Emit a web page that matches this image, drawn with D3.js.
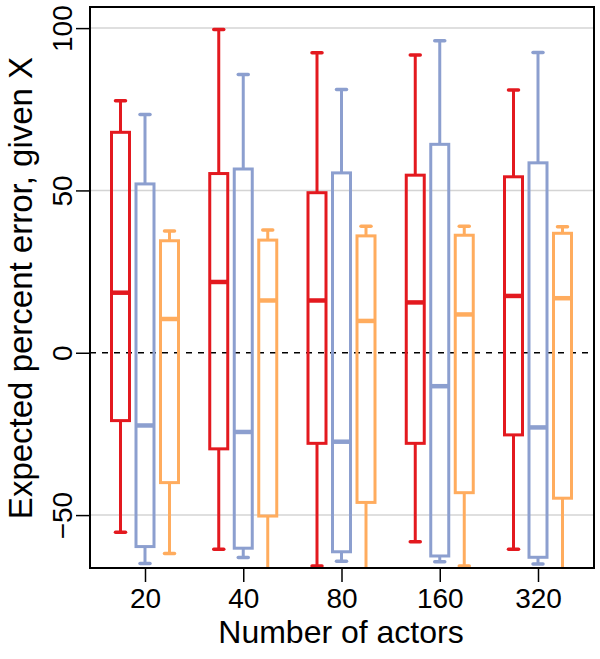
<!DOCTYPE html>
<html>
<head>
<meta charset="utf-8">
<script src="https://cdn.jsdelivr.net/npm/d3@7"></script>
<style>
  body { margin: 0; background: #fff; }
  text { font-family: "Liberation Sans", Arial, sans-serif; fill: #000; }
</style>
</head>
<body>
<div id="chart"></div>
<script>
// number of actors on the x axis
var categories = ["20", "40", "80", "160", "320"];
var seriesNames = ["red", "blue", "orange"];

// box stats per category: [low whisker, q1, median, q3, high whisker]
var redStats = [
    [-55.3, -20.9, 18.5, 67.9, 77.6],
    [-60.5, -29.6, 21.8, 55.2, 99.6],
    [-65.7, -27.9, 16.1, 49.3, 92.4],
    [-58.2, -27.9, 15.5, 54.7, 91.7],
    [-60.5, -25.3, 17.5, 54.2, 80.9]
];
var blueStats = [
    [-64.9, -59.7, -22.4, 52.0, 73.4],
    [-63.1, -60.2, -24.4, 56.6, 85.7],
    [-64.2, -61.3, -27.4, 55.4, 81.1],
    [-64.4, -62.6, -10.3, 64.2, 96.1],
    [-65.1, -63.0, -23.0, 58.5, 92.5]
];
var orangeStats = [
    [-61.8, -40.0, 10.4, 34.5, 37.5],
    [-72.0, -50.3, 16.1, 34.7, 37.8],
    [-72.0, -46.1, 9.8, 36.0, 39.0],
    [-65.7, -43.1, 11.8, 36.2, 39.0],
    [-72.0, -44.8, 16.8, 36.8, 38.8]
];

var yTicks = [-50, 0, 50, 100];
var gridValues = [-50, 50, 100];

var colors = { red: "#e3191f", blue: "#8c9fcf", orange: "#ffac5e" };
var allStats = { red: redStats, blue: blueStats, orange: orangeStats };

var width = 600, height = 659;
var plot = { left: 90, right: 594, top: 7, bottom: 568 };

var svg = d3.select("#chart").append("svg")
    .attr("width", width)
    .attr("height", height);

var y = d3.scaleLinear()
    .domain([-66.3, 106.5])
    .range([plot.bottom, plot.top]);

var x = d3.scalePoint()
    .domain(categories)
    .range([145, 538]);

var xSub = d3.scalePoint()
    .domain(seriesNames)
    .range([-24.5, 24.5]);

svg.append("clipPath").attr("id", "clip")
    .append("rect")
    .attr("x", plot.left).attr("y", plot.top)
    .attr("width", plot.right - plot.left)
    .attr("height", plot.bottom - plot.top);

// grid lines
svg.selectAll(".grid")
    .data(gridValues)
    .enter().append("line")
    .attr("x1", plot.left).attr("x2", plot.right)
    .attr("y1", function(d) { return y(d); })
    .attr("y2", function(d) { return y(d); })
    .attr("stroke", "#d4d4d4")
    .attr("stroke-width", 1.5);

svg.append("line")
    .attr("x1", plot.left).attr("x2", plot.right)
    .attr("y1", y(0)).attr("y2", y(0))
    .attr("stroke", "#000")
    .attr("stroke-width", 1.5)
    .attr("stroke-dasharray", "6,6");

var boxW = 18, capW = 10;
var g = svg.append("g").attr("clip-path", "url(#clip)");

seriesNames.forEach(function(s) {
    var grp = g.selectAll(".box-" + s)
        .data(allStats[s])
        .enter().append("g")
        .attr("transform", function(d, i) {
            return "translate(" + (x(categories[i]) + xSub(s)) + ",0)";
        })
        .attr("stroke", colors[s])
        .attr("fill", "none");

    // whiskers
    grp.append("line")
        .attr("x1", 0).attr("x2", 0)
        .attr("y1", function(d) { return y(d[3]); })
        .attr("y2", function(d) { return y(d[4]); })
        .attr("stroke-width", 3);
    grp.append("line")
        .attr("x1", 0).attr("x2", 0)
        .attr("y1", function(d) { return y(d[1]); })
        .attr("y2", function(d) { return y(d[0]); })
        .attr("stroke-width", 3);
    // caps
    grp.selectAll(".cap")
        .data(function(d) { return [d[0], d[4]]; })
        .enter().append("line")
        .attr("x1", -capW / 2).attr("x2", capW / 2)
        .attr("y1", function(v) { return y(v); })
        .attr("y2", function(v) { return y(v); })
        .attr("stroke-width", 3.5)
        .attr("stroke-linecap", "round");
    // box
    grp.append("rect")
        .attr("x", -boxW / 2)
        .attr("width", boxW)
        .attr("y", function(d) { return y(d[3]); })
        .attr("height", function(d) { return y(d[1]) - y(d[3]); })
        .attr("stroke-width", 3);
    // median
    grp.append("line")
        .attr("x1", -boxW / 2).attr("x2", boxW / 2)
        .attr("y1", function(d) { return y(d[2]); })
        .attr("y2", function(d) { return y(d[2]); })
        .attr("stroke-width", 4.5);
});

// frame
svg.append("rect")
    .attr("x", plot.left).attr("y", plot.top)
    .attr("width", plot.right - plot.left)
    .attr("height", plot.bottom - plot.top)
    .attr("fill", "none")
    .attr("stroke", "#000")
    .attr("stroke-width", 2);

// x axis
var xAxis = svg.append("g")
    .attr("transform", "translate(0," + plot.bottom + ")")
    .call(d3.axisBottom(x).tickSize(14).tickPadding(8));
xAxis.select(".domain").remove();
xAxis.selectAll(".tick line").attr("stroke-width", 1.5);
xAxis.selectAll(".tick text")
    .attr("font-size", 28)
    .attr("font-family", "Liberation Sans, Arial, sans-serif")
    .attr("dy", 0).attr("y", 40);

// y axis
var yAxis = svg.append("g")
    .attr("transform", "translate(" + plot.left + ",0)")
    .call(d3.axisLeft(y).tickValues(yTicks).tickSize(14)
        .tickFormat(function(d) { return d < 0 ? "\u2212" + Math.abs(d) : d; }));
yAxis.select(".domain").remove();
yAxis.selectAll(".tick line").attr("stroke-width", 1.5);
yAxis.selectAll(".tick text")
    .attr("font-size", 28)
    .attr("font-family", "Liberation Sans, Arial, sans-serif")
    .attr("x", null).attr("dy", null)
    .attr("text-anchor", "middle")
    .attr("transform", "translate(-18,0) rotate(-90)");

// axis titles
svg.append("text")
    .attr("x", 341).attr("y", 643)
    .attr("text-anchor", "middle")
    .attr("font-size", 32)
    .text("Number of actors");

svg.append("text")
    .attr("transform", "translate(32,288) rotate(-90)")
    .attr("text-anchor", "middle")
    .attr("font-size", 33)
    .text("Expected percent error, given X");
</script>
</body>
</html>
